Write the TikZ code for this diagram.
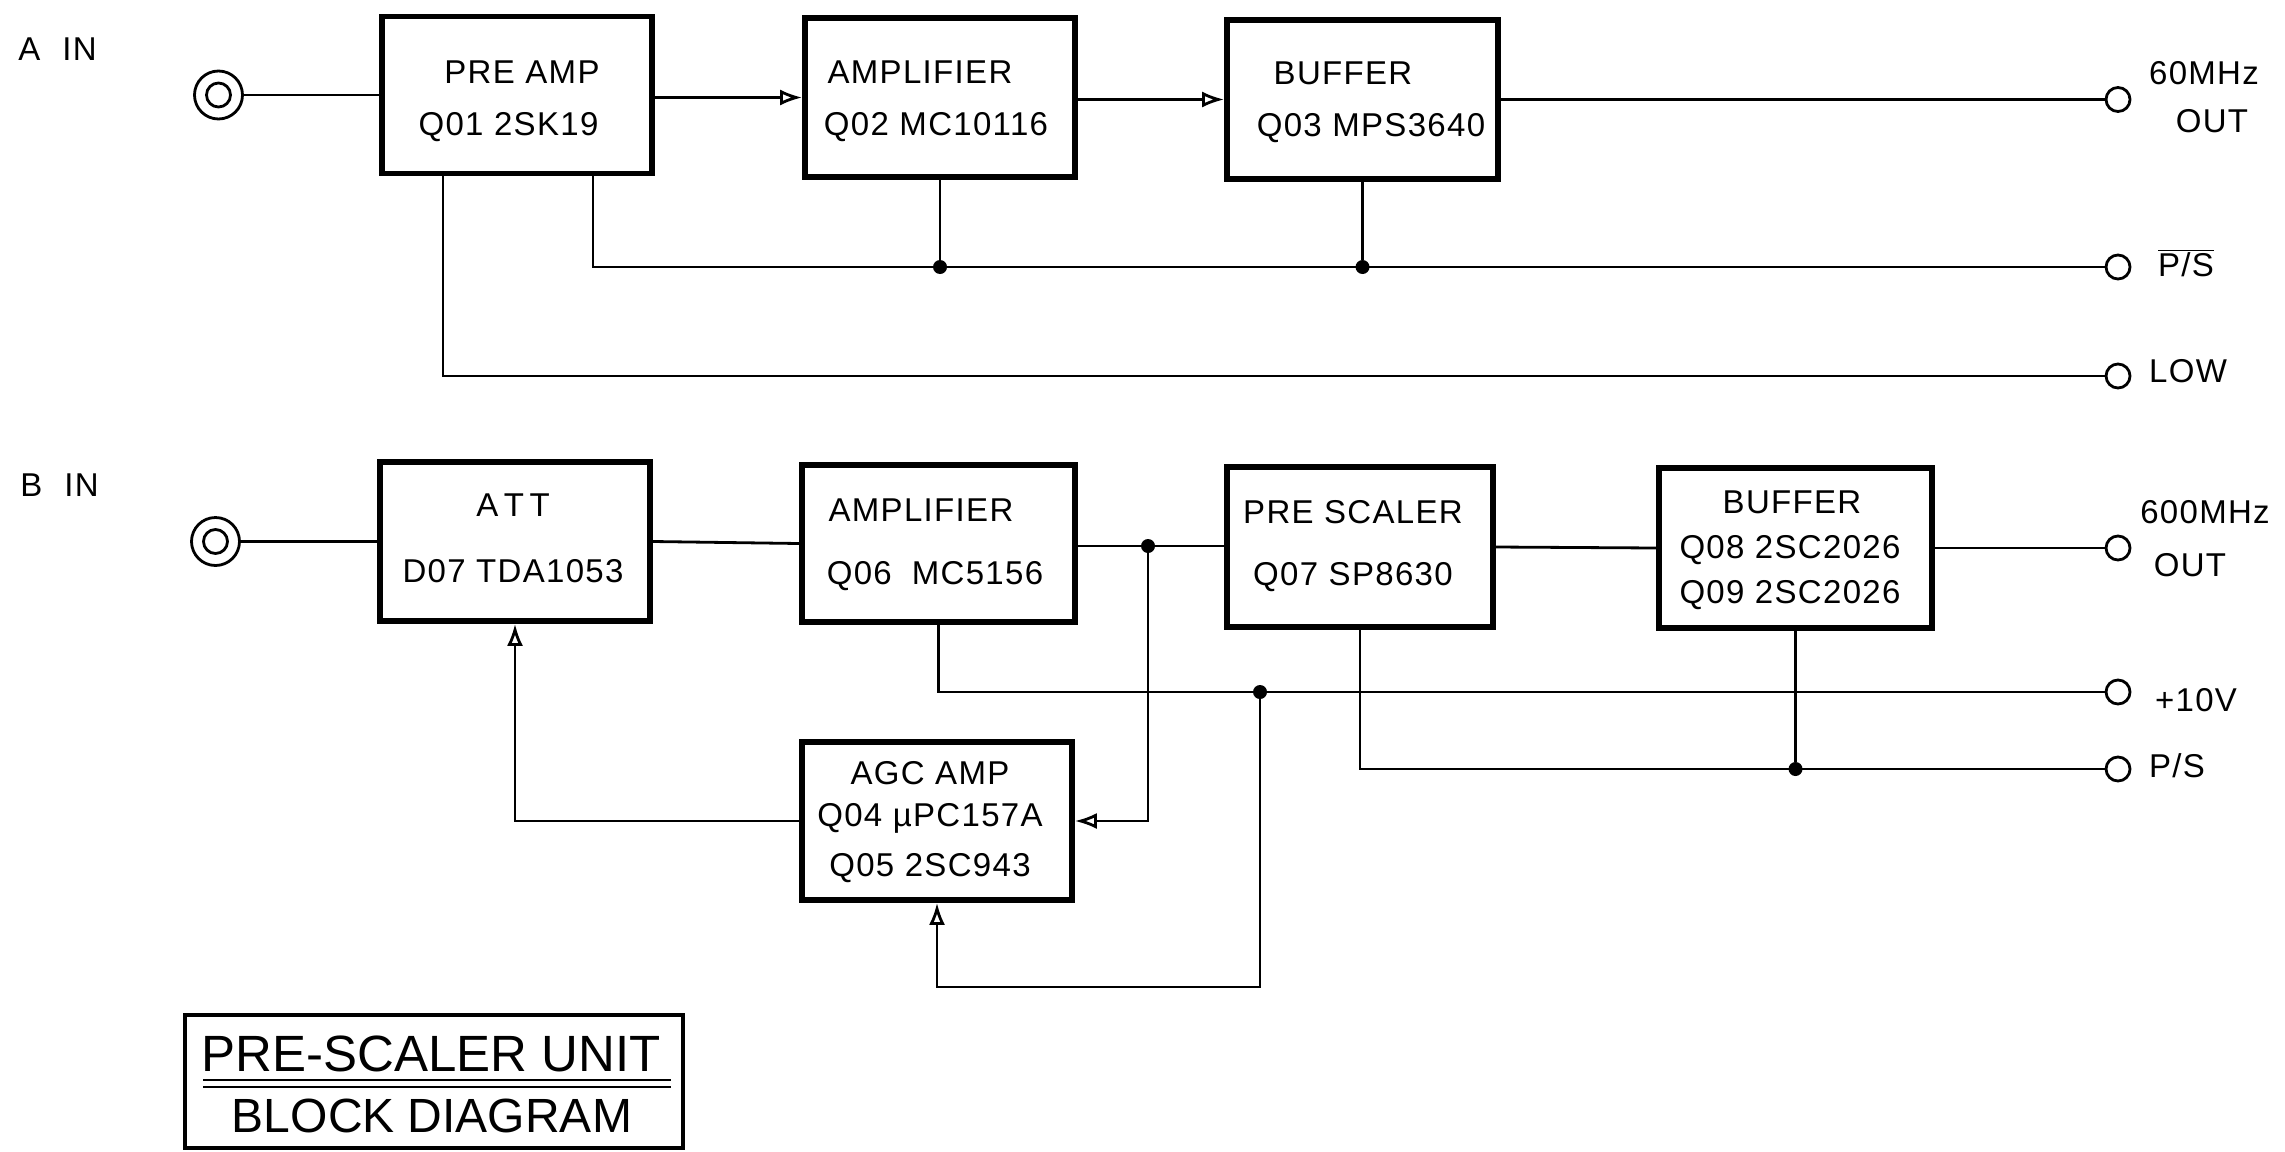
\documentclass[tikz,border=0pt]{standalone}
\usepackage{fontspec}
\setmainfont{Liberation Sans}
\newfontfamily\labfont{Liberation Sans}[LetterSpace=4.0]
\usetikzlibrary{arrows.meta}
\tikzset{
  blk/.style={draw, line width=2.9pt, rectangle, inner sep=0pt},
  sig/.style={line width=1.4pt},
  arr/.style={-{Latex[open,length=11pt,width=8pt,line width=1.4pt]}},
  lbl/.style={font=\labfont\fontsize{16.5}{19}\selectfont, inner sep=0pt, text depth=0pt},
  dot/.style={circle, fill, inner sep=0pt, minimum size=7pt},
  term/.style={circle, draw, line width=1.4pt, inner sep=0pt, minimum size=12pt},
  coax/.style={circle, draw, line width=1.4pt, inner sep=0pt, minimum size=24pt},
  coaxin/.style={circle, draw, line width=1.4pt, inner sep=0pt, minimum size=12pt},
  ttl/.style={font=\fontsize{25.5}{30}\selectfont, inner sep=0pt, text depth=0pt},
}
\begin{document}
\begin{tikzpicture}[x=0.5pt,y=-0.5pt]
\path[use as bounding box, fill=white] (0,0) rectangle (2285,1151);

% ---------- top chain ----------
\node[lbl, anchor=west] (ain) at (18,49) {A\hspace{11pt}IN};
\node[coax] (coaxA) at (218.5,95) {};
\node[coaxin] (coaxAi) at (218.5,95) {};

\node[blk, minimum width=135pt, minimum height=78.5pt] (preamp) at (517,95) {};
\node[lbl] (preampT1) at (522,72.5) {PRE AMP};
\node[lbl] (preampT2) at (508.5,123.5) {Q01 2SK19};

\node[blk, minimum width=135pt, minimum height=79.5pt] (amp1) at (940,97.5) {};
\node[lbl] (amp1T1) at (920,72) {AMPLIFIER};
\node[lbl] (amp1T2) at (936,124) {Q02 MC10116};

\node[blk, minimum width=135.5pt, minimum height=79.5pt] (buf1) at (1362.5,99.5) {};
\node[lbl] (buf1T1) at (1343,73) {BUFFER};
\node[lbl] (buf1T2) at (1371,125) {Q03 MPS3640};

\node[term] (out60) at (2118,99.5) {};
\node[lbl] (out60T1) at (2204,73) {60MHz};
\node[lbl] (out60T2) at (2212,121) {OUT};

\node[term] (psbar) at (2118,267) {};
\node[lbl] (psbarT) at (2186,263) {$\overline{\mbox{\labfont P/S}}$};

\node[term] (low) at (2118,376) {};
\node[lbl] (lowT) at (2188,371) {LOW};

\coordinate (pP) at (593,267);
\coordinate (pL) at (443,376);
\node[dot] (j1) at (amp1.south |- pP) {};
\node[dot] (j2) at (buf1.south |- pP) {};

\draw[sig] (coaxA.east) -- (preamp.west);
\draw[sig,arr] (preamp.east |- amp1.west) -- (amp1.west);
\draw[sig,arr] (amp1.east |- buf1.west) -- (buf1.west);
\draw[sig] (buf1.east) -- (out60.west);
\draw[sig] (preamp.south -| pP) -- (pP) -- (psbar.west);
\draw[sig] (amp1.south) -- (j1);
\draw[sig] (buf1.south) -- (j2);
\draw[sig] (preamp.south -| pL) -- (pL) -- (low.west);

% ---------- bottom chain ----------
\node[lbl, anchor=west] (bin) at (20,485) {B\hspace{11pt}IN};
\node[coax] (coaxB) at (215.5,541.5) {};
\node[coaxin] (coaxBi) at (215.5,541.5) {};

\node[blk, minimum width=135pt, minimum height=79.5pt] (att) at (515,541.5) {};
\node[lbl] (attT1) at (513,505) {A\,T\,T};
\node[lbl] (attT2) at (513,571) {D07 TDA1053};

\node[blk, minimum width=136.5pt, minimum height=78.5pt] (amp2) at (938.5,543.5) {};
\node[lbl] (amp2T1) at (921,510) {AMPLIFIER};
\node[lbl] (amp2T2) at (935,573) {Q06\hspace{10pt}MC5156};

\node[blk, minimum width=133pt, minimum height=80pt] (presc) at (1360,547) {};
\node[lbl] (prescT1) at (1353,512) {PRE SCALER};
\node[lbl] (prescT2) at (1353,574) {Q07 SP8630};

\node[blk, minimum width=136.5pt, minimum height=80pt] (buf2) at (1795.5,548) {};
\node[lbl] (buf2T1) at (1792,502) {BUFFER};
\node[lbl] (buf2T2) at (1790,547) {Q08 2SC2026};
\node[lbl] (buf2T3) at (1790,592) {Q09 2SC2026};

\node[blk, minimum width=135pt, minimum height=79pt] (agc) at (937,821) {};
\node[lbl] (agcT1) at (930,773) {AGC AMP};
\node[lbl] (agcT2) at (930,815) {Q04 µPC157A};
\node[lbl] (agcT3) at (930,865) {Q05 2SC943};

\node[term] (out600) at (2118,548) {};
\node[lbl] (out600T1) at (2205,512) {600MHz};
\node[lbl] (out600T2) at (2190,565) {OUT};

\node[term] (p10) at (2118,692) {};
\node[lbl] (p10T) at (2196,700) {+10V};

\node[term] (ps2) at (2118,769) {};
\node[lbl] (ps2T) at (2177,766) {P/S};

\node[dot] (j3) at (1148,546) {};
\node[dot] (j4) at (1260,692) {};
\node[dot] (j5) at (buf2.south |- ps2) {};
\coordinate (c4) at (1260,987);

\draw[sig] (coaxB.east) -- (att.west);
\draw[sig] (att.east) -- (amp2.west);
\draw[sig] (amp2.east |- j3) -- (j3) -- (presc.west |- j3);
\draw[sig] (presc.east) -- (buf2.west);
\draw[sig] (buf2.east) -- (out600.west);
\draw[sig,arr] (j3) |- (agc.east);
\draw[sig] (amp2.south) |- (p10.west);
\draw[sig,arr] (j4) -- (c4) -| (agc.south);
\draw[sig] (presc.south) |- (ps2.west);
\draw[sig] (buf2.south) -- (j5);
\draw[sig,arr] (agc.west) -| (att.south);

% ---------- title ----------
\node[blk, line width=2.4pt, minimum width=249pt, minimum height=66.5pt] (title) at (434,1081.5) {};
\node[ttl] (titleT1) at (431,1054) {PRE-SCALER UNIT};
\node[ttl, font=\fontsize{24}{28}\selectfont] (titleT2) at (432,1116) {BLOCK DIAGRAM};
\coordinate (u1a) at (203,1080);
\coordinate (u1b) at (671,1080);
\coordinate (u2a) at (203,1087);
\coordinate (u2b) at (671,1087);
\draw[line width=1.2pt] (u1a) -- (u1b);
\draw[line width=1.2pt] (u2a) -- (u2b);
\end{tikzpicture}
\end{document}
